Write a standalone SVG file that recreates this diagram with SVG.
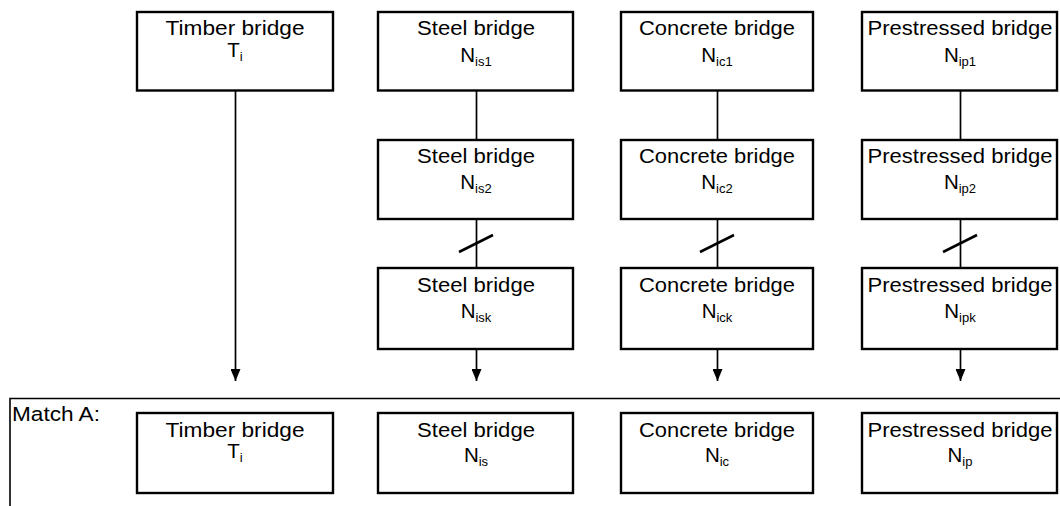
<svg xmlns="http://www.w3.org/2000/svg" width="1060" height="506" viewBox="0 0 1060 506">
<style>
.box{fill:#fff;stroke:#000;stroke-width:2.4}
.t{font-family:"Liberation Sans",Arial,sans-serif;font-size:20.5px;fill:#000;text-anchor:middle}
.s{font-size:13px}
.ln{stroke:#000;stroke-width:1.7;fill:none}
.sl{stroke:#000;stroke-width:2.6;fill:none}
.frame{stroke:#000;stroke-width:1.6;fill:none}
</style>
<defs>
<marker id="ah" viewBox="0 0 12 10" refX="12" refY="5" markerWidth="12" markerHeight="10" markerUnits="userSpaceOnUse" orient="auto">
<path d="M0,0 L12,5 L0,10 z" fill="#000"/>
</marker>
</defs>
<rect width="1060" height="506" fill="#fff"/>

<g id="connectors">
<line class="ln" x1="235.5" y1="91" x2="235.5" y2="381" marker-end="url(#ah)"/>
<line class="ln" x1="476.5" y1="91" x2="476.5" y2="140"/>
<line class="ln" x1="476.5" y1="220" x2="476.5" y2="268"/>
<line class="sl" x1="459" y1="252" x2="493" y2="235"/>
<line class="ln" x1="476.5" y1="350" x2="476.5" y2="381" marker-end="url(#ah)"/>
<line class="ln" x1="717.5" y1="91" x2="717.5" y2="140"/>
<line class="ln" x1="717.5" y1="220" x2="717.5" y2="268"/>
<line class="sl" x1="700" y1="252" x2="734" y2="235"/>
<line class="ln" x1="717.5" y1="350" x2="717.5" y2="381" marker-end="url(#ah)"/>
<line class="ln" x1="960.5" y1="91" x2="960.5" y2="140"/>
<line class="ln" x1="960.5" y1="220" x2="960.5" y2="268"/>
<line class="sl" x1="943" y1="252" x2="977" y2="235"/>
<line class="ln" x1="960.5" y1="350" x2="960.5" y2="381" marker-end="url(#ah)"/>
</g>

<g id="matchA">
<path class="frame" d="M10,506 L10,398.5 L1060,398.5"/>
<text x="12" y="421" class="t" style="text-anchor:start" textLength="88" lengthAdjust="spacingAndGlyphs">Match A:</text>
</g>

<g id="timber1">
<rect class="box" x="137" y="12" width="196" height="78.5"/>
<text x="235" y="35" class="t" textLength="139" lengthAdjust="spacingAndGlyphs">Timber bridge</text>
<text x="235" y="57" class="t">T<tspan class="s" dy="4">i</tspan></text>
</g>

<g id="steel1">
<rect class="box" x="378" y="12" width="195" height="78.5"/>
<text x="476" y="35" class="t" textLength="118" lengthAdjust="spacingAndGlyphs">Steel bridge</text>
<text x="476" y="62" class="t">N<tspan class="s" dy="4">is1</tspan></text>
</g>
<g id="steel2">
<rect class="box" x="378" y="140" width="195" height="79"/>
<text x="476" y="163" class="t" textLength="118" lengthAdjust="spacingAndGlyphs">Steel bridge</text>
<text x="476" y="189" class="t">N<tspan class="s" dy="4">is2</tspan></text>
</g>
<g id="steelk">
<rect class="box" x="378" y="268" width="195" height="81"/>
<text x="476" y="292" class="t" textLength="118" lengthAdjust="spacingAndGlyphs">Steel bridge</text>
<text x="476" y="318" class="t">N<tspan class="s" dy="4">isk</tspan></text>
</g>

<g id="concrete1">
<rect class="box" x="621" y="12" width="192" height="78.5"/>
<text x="717" y="35" class="t" textLength="156" lengthAdjust="spacingAndGlyphs">Concrete bridge</text>
<text x="717" y="62" class="t">N<tspan class="s" dy="4">ic1</tspan></text>
</g>
<g id="concrete2">
<rect class="box" x="621" y="140" width="192" height="79"/>
<text x="717" y="163" class="t" textLength="156" lengthAdjust="spacingAndGlyphs">Concrete bridge</text>
<text x="717" y="189" class="t">N<tspan class="s" dy="4">ic2</tspan></text>
</g>
<g id="concretek">
<rect class="box" x="621" y="268" width="192" height="81"/>
<text x="717" y="292" class="t" textLength="156" lengthAdjust="spacingAndGlyphs">Concrete bridge</text>
<text x="717" y="318" class="t">N<tspan class="s" dy="4">ick</tspan></text>
</g>

<g id="prestressed1">
<rect class="box" x="862" y="12" width="195" height="78.5"/>
<text x="960" y="35" class="t" textLength="185" lengthAdjust="spacingAndGlyphs">Prestressed bridge</text>
<text x="960" y="62" class="t">N<tspan class="s" dy="4">ip1</tspan></text>
</g>
<g id="prestressed2">
<rect class="box" x="862" y="140" width="195" height="79"/>
<text x="960" y="163" class="t" textLength="185" lengthAdjust="spacingAndGlyphs">Prestressed bridge</text>
<text x="960" y="189" class="t">N<tspan class="s" dy="4">ip2</tspan></text>
</g>
<g id="prestressedk">
<rect class="box" x="862" y="268" width="195" height="81"/>
<text x="960" y="292" class="t" textLength="185" lengthAdjust="spacingAndGlyphs">Prestressed bridge</text>
<text x="960" y="318" class="t">N<tspan class="s" dy="4">ipk</tspan></text>
</g>

<g id="timberA">
<rect class="box" x="137" y="413" width="196" height="80"/>
<text x="235" y="437" class="t" textLength="139" lengthAdjust="spacingAndGlyphs">Timber bridge</text>
<text x="235" y="458" class="t">T<tspan class="s" dy="4">i</tspan></text>
</g>
<g id="steelA">
<rect class="box" x="378" y="413" width="195" height="80"/>
<text x="476" y="437" class="t" textLength="118" lengthAdjust="spacingAndGlyphs">Steel bridge</text>
<text x="476" y="462" class="t">N<tspan class="s" dy="4">is</tspan></text>
</g>
<g id="concreteA">
<rect class="box" x="621" y="413" width="192" height="80"/>
<text x="717" y="437" class="t" textLength="156" lengthAdjust="spacingAndGlyphs">Concrete bridge</text>
<text x="717" y="462" class="t">N<tspan class="s" dy="4">ic</tspan></text>
</g>
<g id="prestressedA">
<rect class="box" x="862" y="413" width="195" height="80"/>
<text x="960" y="437" class="t" textLength="185" lengthAdjust="spacingAndGlyphs">Prestressed bridge</text>
<text x="960" y="462" class="t">N<tspan class="s" dy="4">ip</tspan></text>
</g>
</svg>
